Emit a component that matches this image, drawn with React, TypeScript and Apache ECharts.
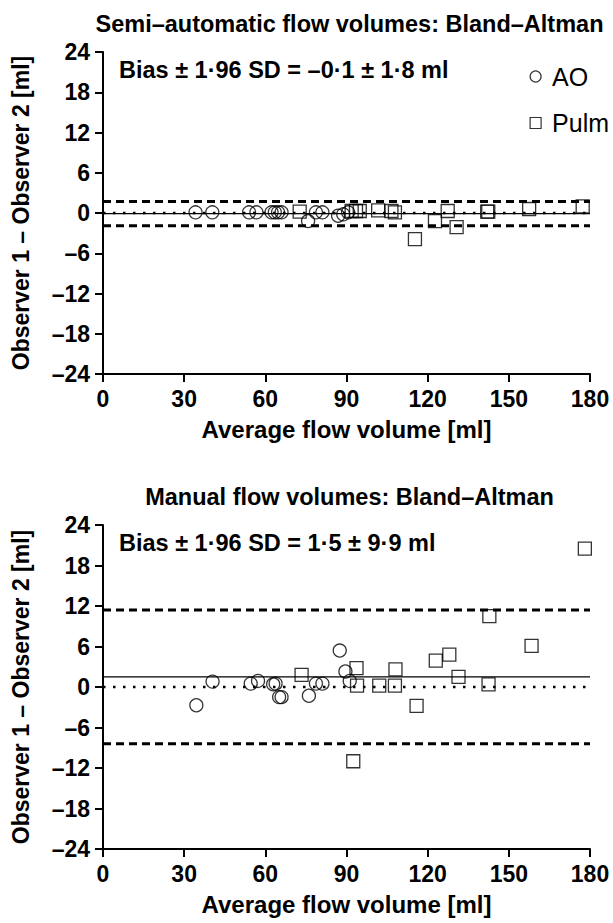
import React, { useEffect, useRef } from "react";
import * as echarts from "echarts";

// ---- Data ----
const xTickValues = [0, 30, 60, 90, 120, 150, 180];
const yTickValues = [-24, -18, -12, -6, 0, 6, 12, 18, 24];
const seriesNames = ["AO", "Pulm"];
const panelTitles = [
  "Semi\u2013automatic flow volumes: Bland\u2013Altman",
  "Manual flow volumes: Bland\u2013Altman",
];
const biasTexts = [
  "Bias \u00b1 1\u00b796 SD = \u20130\u00b71 \u00b1 1\u00b78 ml",
  "Bias \u00b1 1\u00b796 SD = 1\u00b75 \u00b1 9\u00b79 ml",
];
const xAxisTitle = "Average flow volume [ml]";
const yAxisTitle = "Observer 1 \u2013 Observer 2 [ml]";

// [average, difference]
const semiAO = [
  [34.2, 0.1], [40.4, 0.1], [54.0, 0.1], [56.7, 0.1], [62.3, 0.1], [63.5, 0.1],
  [64.7, 0.1], [66.0, 0.1], [75.8, -1.2], [78.7, 0.1], [81.1, 0.1], [86.9, -0.4],
  [88.8, -0.2], [90.6, 0.1],
];
const semiPulm = [
  [72.7, 0.2], [91.9, 0.3], [93.5, 0.3], [94.9, 0.3], [101.7, 0.4], [106.6, 0.3],
  [107.9, 0.1], [115.3, -3.9], [122.7, -1.2], [127.4, 0.3], [130.7, -2.1],
  [142.0, 0.2], [142.4, 0.2], [157.5, 0.6], [177.3, 1.0],
];
const manualAO = [
  [34.5, -2.7], [40.5, 0.8], [54.6, 0.5], [57.3, 0.9], [62.9, 0.4], [63.8, 0.5],
  [65.1, -1.5], [66.0, -1.5], [76.1, -1.3], [78.7, 0.5], [81.1, 0.5], [87.5, 5.4],
  [89.6, 2.3], [91.2, 0.9],
];
const manualPulm = [
  [73.4, 1.8], [92.5, -11.0], [93.7, 2.8], [93.9, 0.2], [102.1, 0.2], [107.9, 0.2],
  [108.1, 2.6], [115.9, -2.8], [123.0, 3.9], [128.0, 4.8], [131.4, 1.5],
  [142.5, 0.4], [142.8, 10.5], [158.4, 6.1], [178.1, 20.5],
];
// bias, upper limit, lower limit
const semiLines = [-0.1, 1.7, -1.9];
const manualLines = [1.5, 11.4, -8.4];

const FONT = "'Liberation Sans', Arial, Helvetica, sans-serif";

export default function App() {
  const ref = useRef<HTMLDivElement>(null);

  useEffect(() => {
    if (!ref.current) return;
    const chart = echarts.init(ref.current, null, { renderer: "svg" });

    const grids = [
      { left: 103, top: 52, width: 487, height: 322 },
      { left: 103, top: 525, width: 487, height: 324 },
    ];
    const xMin = xTickValues[0];
    const xMax = xTickValues[xTickValues.length - 1];
    const yMin = yTickValues[0];
    const yMax = yTickValues[yTickValues.length - 1];

    const axisLine = { show: true, onZero: false, lineStyle: { color: "#000", width: 2 } };
    const axisTick = { show: true, inside: false, length: 8, lineStyle: { color: "#000", width: 2 } };

    const xAxes = grids.map((_, i) => ({
      type: "value",
      gridIndex: i,
      min: xMin,
      max: xMax,
      interval: xTickValues[1] - xTickValues[0],
      axisLine,
      axisTick,
      splitLine: { show: false },
      axisLabel: { color: "#000", fontSize: 23, fontWeight: "bold", fontFamily: FONT, margin: 13 },
      name: xAxisTitle,
      nameLocation: "middle",
      nameGap: 43,
      nameTextStyle: { color: "#000", fontSize: 24, fontWeight: "bold", fontFamily: FONT },
    }));
    const yAxes = grids.map((_, i) => ({
      type: "value",
      gridIndex: i,
      min: yMin,
      max: yMax,
      interval: yTickValues[1] - yTickValues[0],
      axisLine,
      axisTick,
      splitLine: { show: false },
      axisLabel: {
        color: "#000",
        fontSize: 23,
        fontWeight: "bold",
        fontFamily: FONT,
        margin: 13,
        formatter: (v: number) => (v < 0 ? "\u2013" + Math.abs(v) : String(v)),
      },
    }));

    const panels = [
      { ao: semiAO, pulm: semiPulm, lines: semiLines },
      { ao: manualAO, pulm: manualPulm, lines: manualLines },
    ];

    const markerStyle = { color: "rgba(0,0,0,0)", borderColor: "#000", borderWidth: 1.3 };
    const series: any[] = [];
    panels.forEach((p, i) => {
      const hLine = (y: number, lineStyle: any) => ({
        type: "line",
        xAxisIndex: i,
        yAxisIndex: i,
        data: [[xMin, y], [xMax, y]],
        symbol: "none",
        silent: true,
        z: 1,
        lineStyle,
      });
      series.push(hLine(0, { color: "#000", width: 2.5, type: [2.5, 7.5] }));
      series.push(hLine(p.lines[0], { color: "#000", width: 1.3, type: "solid" }));
      series.push(hLine(p.lines[1], { color: "#000", width: 3, type: [8, 5] }));
      series.push(hLine(p.lines[2], { color: "#000", width: 3, type: [8, 5] }));
      series.push({
        type: "scatter",
        name: seriesNames[0],
        xAxisIndex: i,
        yAxisIndex: i,
        data: p.ao,
        symbol: "circle",
        symbolSize: 13,
        itemStyle: markerStyle,
        z: 3,
      });
      series.push({
        type: "scatter",
        name: seriesNames[1],
        xAxisIndex: i,
        yAxisIndex: i,
        data: p.pulm,
        symbol: "rect",
        symbolSize: 13,
        itemStyle: markerStyle,
        z: 3,
      });
    });

    const graphics: any[] = [];
    grids.forEach((g, i) => {
      const cx = g.left + g.width / 2 + 3;
      const cy = g.top + g.height / 2;
      graphics.push({
        type: "text",
        x: cx,
        y: g.top - 28,
        style: {
          text: panelTitles[i],
          fill: "#000",
          font: `bold 23.5px ${FONT}`,
          textAlign: "center",
          textVerticalAlign: "middle",
        },
      });
      graphics.push({
        type: "text",
        x: 119,
        y: g.top + 18,
        style: {
          text: biasTexts[i],
          fill: "#000",
          font: `bold 23.5px ${FONT}`,
          textAlign: "left",
          textVerticalAlign: "middle",
        },
      });
      graphics.push({
        type: "text",
        x: 21,
        y: cy,
        rotation: Math.PI / 2,
        style: {
          text: yAxisTitle,
          fill: "#000",
          font: `bold 23px ${FONT}`,
          textAlign: "center",
          textVerticalAlign: "middle",
        },
      });
    });

    chart.setOption({
      animation: false,
      backgroundColor: "#fff",
      grid: grids.map((g) => ({ ...g, containLabel: false })),
      xAxis: xAxes,
      yAxis: yAxes,
      legend: {
        show: true,
        orient: "vertical",
        left: 529.5,
        top: 64,
        padding: 0,
        itemWidth: 11,
        itemHeight: 11,
        itemGap: 21.5,
        selectedMode: false,
        data: [
          { name: seriesNames[0], icon: "circle" },
          { name: seriesNames[1], icon: "rect" },
        ],
        itemStyle: { color: "rgba(0,0,0,0)", borderColor: "#000", borderWidth: 1.2 },
        textStyle: { color: "#000", fontSize: 25, fontFamily: FONT, padding: [0, 0, 0, 6] },
      },
      graphic: graphics,
      series,
    });

    return () => chart.dispose();
  }, []);

  return (
    <div
      ref={ref}
      style={{ position: "absolute", left: 0, top: 0, width: 613, height: 923 }}
    />
  );
}
